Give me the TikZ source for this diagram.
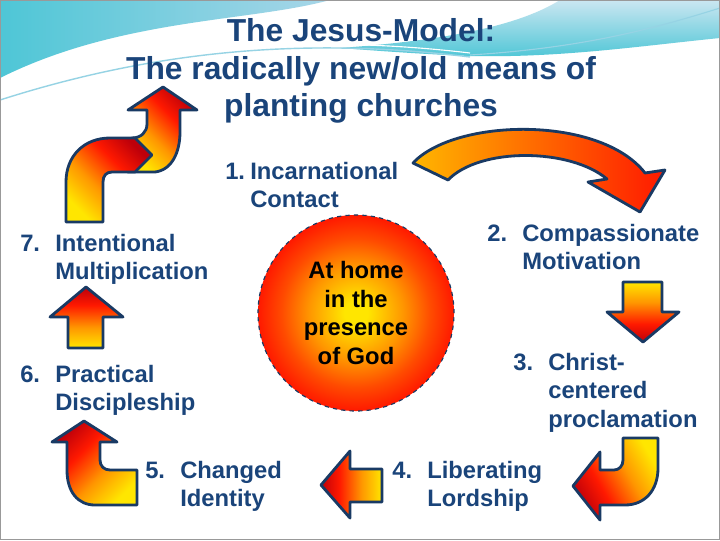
\documentclass[tikz,border=0pt]{standalone}
\usepackage{fontspec}
\setmainfont{Liberation Sans}
\usetikzlibrary{positioning}

\definecolor{titleblue}{RGB}{26,68,122}
\definecolor{edgeblue}{RGB}{25,58,100}
\definecolor{fireyellow}{RGB}{255,230,0}
\definecolor{fireorange}{RGB}{255,150,0}
\definecolor{firered}{RGB}{255,25,0}
\definecolor{firedark}{RGB}{190,0,10}
\definecolor{seacyan}{RGB}{78,198,214}
\definecolor{sealight}{RGB}{168,214,232}

\pgfdeclarehorizontalshading{fire}{100bp}{color(0bp)=(fireyellow); color(25bp)=(fireyellow);
  color(42bp)=(fireorange); color(60bp)=(firered); color(75bp)=(firedark); color(100bp)=(firedark)}
\pgfdeclarehorizontalshading{ember}{100bp}{color(0bp)=(fireorange!60!fireyellow);
  color(25bp)=(fireorange!60!fireyellow); color(75bp)=(firered); color(100bp)=(firered)}
\pgfdeclareradialshading{homeglow}{\pgfpoint{0bp}{0bp}}{color(0bp)=(fireyellow); color(3bp)=(fireyellow);
  color(12bp)=(fireorange); color(19bp)=(firered!60!fireorange); color(25bp)=(firered); color(50bp)=(firered)}

% number in a fixed column, text hanging after it
\newcommand{\steplines}[3][0.875cm]{\begin{tabular}[t]{@{}p{#1}@{}l@{}}#2&#3\end{tabular}}

\tikzset{
  firearrow/.style={draw=edgeblue,line width=2pt,line join=round,shading=fire},
  steplabel/.style={text=titleblue,inner sep=0pt,anchor=base west,
    font=\fontsize{16.9pt}{20.6pt}\selectfont\bfseries}
}

\begin{document}
\begin{tikzpicture}[x=0.025cm,y=-0.025cm]
    \useasboundingbox (0,0) rectangle (720,540);
    \fill[white] (0,0) rectangle (720,540);
    % sea swoosh at the top
    \shade[left color=seacyan,right color=sealight] (0,0) -- (330,0)
      .. controls (250,22) and (120,18) .. (0,78) -- cycle;
    \shade[top color=sealight!60!white,bottom color=seacyan] (560,0) -- (720,0) -- (720,38)
      .. controls (640,46) and (560,58) .. (470,56) .. controls (420,54) and (380,51) .. (340,48)
      .. controls (450,40) and (520,25) .. (560,0) -- cycle;
    \draw[sealight!80!seacyan,line width=1pt] (0,100) .. controls (150,52) and (300,36) .. (470,57);
    \draw[white,line width=0.8pt] (0,95) .. controls (150,48) and (300,33) .. (470,53);
    \draw[sealight!80!seacyan,line width=0.8pt] (470,55) .. controls (580,48) and (650,30) .. (720,8);
    \draw[gray!80] (0.5,0.5) rectangle (719.5,539.5);

    \node[text=titleblue,align=center,font=\fontsize{22.6pt}{26.7pt}\selectfont\bfseries]
      (title) at (361,71) {The Jesus-Model:\\The radically new/old means of\\planting churches};

    \node[circle,minimum size=4.9cm,inner sep=0pt,shade,shading=homeglow,draw=edgeblue,dashed,
      line width=0.8pt,align=center,font=\fontsize{16.9pt}{20.6pt}\selectfont\bfseries]
      (home) at (356,313) {At home\\in the\\presence\\of God};

    % 7 -> 1
    \shade[firearrow,shading angle=45] (128,172) -- (155,172) .. controls (172,170) and (180,152) .. (180,132)
      -- (180,110) -- (197,110) -- (163,87) -- (128,110) -- (147,110) -- (147,124)
      .. controls (147,132) and (141,138) .. (132,138) -- cycle;
    \shade[firearrow,shading angle=45] (66,222) -- (66,182) .. controls (66,156) and (84,138) .. (110,138)
      -- (135,138) -- (152,155) -- (135,172) -- (112,172) .. controls (106,172) and (103,176) .. (103,182)
      -- (103,222) -- cycle;
    % 1 -> 2
    \shade[firearrow,shading=ember] (413,163) .. controls (455,118) and (600,115) .. (645,173)
      -- (665,170) -- (640,212) -- (588,182) -- (607,179) .. controls (570,148) and (480,147) .. (448,180) -- cycle;
    % 2 -> 3
    \shade[firearrow,shading angle=-90] (623,282) -- (662,282) -- (662,312) -- (679,312) -- (643,342)
      -- (607,312) -- (623,312) -- cycle;
    % 3 -> 4
    \shade[firearrow,shading angle=210] (623,438) -- (658,438) -- (658,468) .. controls (658,490) and (645,505) .. (625,505)
      -- (600,505) -- (600,520) -- (573,486) -- (600,452) -- (600,470) -- (614,470)
      .. controls (619,470) and (623,466) .. (623,460) -- cycle;
    % 4 -> 5
    \shade[firearrow,shading angle=180] (382,469) -- (382,502) -- (350,502) -- (350,518) -- (321,485)
      -- (350,451) -- (350,469) -- cycle;
    % 5 -> 6
    \shade[firearrow,shading angle=135] (67,442) -- (52,442) -- (84,421) -- (117,442) -- (100,442) -- (100,460)
      .. controls (100,466) and (104,470) .. (110,470) -- (137,470) -- (137,505) -- (95,505)
      .. controls (78,505) and (67,492) .. (67,470) -- cycle;
    % 6 -> 7
    \shade[firearrow,shading angle=90] (68,348) -- (68,317) -- (50,317) -- (86,287) -- (123,317) -- (103,317)
      -- (103,348) -- cycle;

    \node[steplabel] (incarnation) at (225,179) {\steplines[0.625cm]{1.}{Incarnational\\&Contact}};
    \node[steplabel] (compassion) at (487,241) {\steplines{2.}{Compassionate\\&Motivation}};
    \node[steplabel] (proclaim) at (513,370) {\steplines{3.}{Christ-\\&centered\\&proclamation}};
    \node[steplabel] (lordship) at (392,478) {\steplines{4.}{Liberating\\&Lordship}};
    \node[steplabel] (identity) at (145,478) {\steplines{5.}{Changed\\&Identity}};
    \node[steplabel] (discipleship) at (20,382) {\steplines{6.}{Practical\\&Discipleship}};
    \node[steplabel] (multiply) at (20,251) {\steplines{7.}{Intentional\\&Multiplication}};
  \end{tikzpicture}
\end{document}
